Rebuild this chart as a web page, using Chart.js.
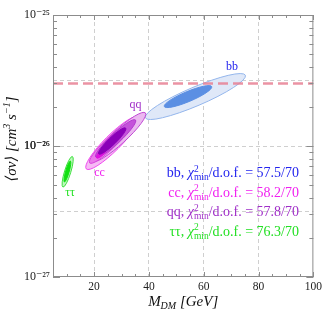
<!DOCTYPE html>
<html>
<head>
<meta charset="utf-8">
<script src="https://cdn.jsdelivr.net/npm/chart.js@4.4.0/dist/chart.umd.min.js"></script>
<style>
  html, body { margin: 0; padding: 0; background: #fff; }
</style>
</head>
<body>
<canvas id="chart" width="325" height="313"></canvas>
<script>
const channels = ['bb', 'cc', 'qq', 'ττ'];
const chi2min = [57.5, 58.2, 57.8, 76.3];
const dof = 70;
const channelColors = ['#2424ee', '#f020f0', '#a02ec8', '#22e022'];

const xTicks = [20, 40, 60, 80, 100];
const xMinor = [10, 15, 25, 30, 35, 45, 50, 55, 65, 70, 75, 85, 90, 95];
const yTicks = [1e-27, 1e-26, 1e-25];
const yGrid = [3.16e-27, 1e-26, 3.16e-26];
const yMinorMult = [2, 3, 4, 5, 6, 7, 8, 9];

const relicMass = [5, 100];
const relicSigmaV = 3.0e-26;

// each contour: tip, other tip, end of the short half axis  ([M_DM, <sigma v>])
const bbOuter = [[38.7, 1.64e-26], [75.2, 3.47e-26], [58.3, 2.05e-26]];
const bbInner = [[45.6, 2.00e-26], [62.9, 2.84e-26], [55.0, 2.20e-26]];
const ccOuter = [[17.15, 6.68e-27], [36.2, 1.665e-26], [28.7, 9.54e-27]];
const qqOuter = [[19.5, 7.68e-27], [38.7, 1.79e-26], [30.8, 1.07e-26]];
const ccMid = [[18.4, 7.42e-27], [32.9, 1.45e-26], [27.0, 9.66e-27]];
const qqMid = [[20.6, 8.24e-27], [35.1, 1.58e-26], [29.1, 1.07e-26]];
const ccCore = [[20.95, 8.1e-27], [24.9, 1.0e-26], [23.6, 8.73e-27]];
const qqCore = [[21.7, 8.69e-27], [31.5, 1.37e-26], [27.5, 1.04e-26]];
const tauOuter = [[8.63, 4.86e-27], [12.07, 8.32e-27], [11.45, 6.26e-27]];
const tauInner = [[9.17, 5.31e-27], [11.35, 7.68e-27], [10.87, 6.33e-27]];

// channel name positions
const labelPos = [[70.3, 4.03e-26], [22.0, 6.22e-27], [35.1, 2.06e-26], [11.2, 4.4e-27]];

const SERIF = '"Liberation Serif", "DejaVu Serif", serif';

const contours = [
  { pts: bbOuter, fill: '#dfe8f8', line: '#94b6ec' },
  { pts: bbInner, fill: '#5b8fe3', line: '#5b8fe3' },
  { pts: ccOuter, fill: '#f6baf4', line: '#f04af0' },
  { pts: qqOuter, fill: '#ebb8f0', line: '#c04ad4' },
  { pts: ccMid, fill: '#ea78ea', line: '#d844dc' },
  { pts: qqMid, fill: '#c452da', line: '#b43ad0' },
  { pts: ccCore, fill: '#e010e0', line: '#e010e0' },
  { pts: qqCore, fill: '#8a00b8', line: '#8a00b8' },
  { pts: tauOuter, fill: '#bcf8bc', line: '#3ee03e' },
  { pts: tauInner, fill: '#12e012', line: '#12e012' }
];

function drawRich(ctx, parts, x, y) {
  parts.forEach(p => {
    const list = p.stack || [p];
    let adv = 0;
    list.forEach(q => {
      ctx.font = q.font;
      ctx.fillText(q.t, x, y + (q.dy || 0));
      adv = Math.max(adv, ctx.measureText(q.t).width);
    });
    x += adv;
  });
}

function richWidth(ctx, parts) {
  let w = 0;
  parts.forEach(p => {
    const list = p.stack || [p];
    w += Math.max(...list.map(q => { ctx.font = q.font; return ctx.measureText(q.t).width; }));
  });
  return w;
}

const contourPlugin = {
  id: 'contours',
  beforeDatasetsDraw(chart) {
    const { ctx, chartArea: a, scales: { x, y } } = chart;
    ctx.save();
    ctx.beginPath();
    ctx.rect(a.left, a.top, a.width, a.height);
    ctx.clip();
    contours.forEach(c => {
      const p = c.pts.map(([m, s]) => [x.getPixelForValue(m), y.getPixelForValue(s)]);
      const cx = (p[0][0] + p[1][0]) / 2, cy = (p[0][1] + p[1][1]) / 2;
      const dx = p[1][0] - p[0][0], dy = p[1][1] - p[0][1];
      const ra = Math.hypot(dx, dy) / 2;
      const rb = Math.abs((p[2][0] - cx) * dy - (p[2][1] - cy) * dx) / (2 * ra);
      ctx.beginPath();
      ctx.ellipse(cx, cy, ra, rb, Math.atan2(dy, dx), 0, Math.PI * 2);
      ctx.fillStyle = c.fill;
      ctx.fill();
      ctx.lineWidth = 1;
      ctx.strokeStyle = c.line;
      ctx.stroke();
    });
    ctx.textAlign = 'center';
    ctx.textBaseline = 'middle';
    ctx.font = `12px ${SERIF}`;
    labelPos.forEach(([m, s], i) => {
      ctx.fillStyle = channelColors[i];
      ctx.fillText(channels[i], x.getPixelForValue(m), y.getPixelForValue(s));
    });
    ctx.restore();
  },
  afterDraw(chart) {
    const { ctx, chartArea: a, scales: { x, y } } = chart;
    ctx.save();
    // frame and inside ticks
    ctx.strokeStyle = '#8c8c8c';
    ctx.lineWidth = 1;
    ctx.strokeRect(a.left + 0.5, a.top + 0.5, a.width - 1, a.height - 1);
    ctx.beginPath();
    const xt = (v, len) => {
      const px = Math.round(x.getPixelForValue(v)) + 0.5;
      ctx.moveTo(px, a.bottom); ctx.lineTo(px, a.bottom - len);
      ctx.moveTo(px, a.top); ctx.lineTo(px, a.top + len);
    };
    xTicks.forEach(v => xt(v, 5));
    xMinor.forEach(v => xt(v, 3));
    const yt = (v, len) => {
      const py = Math.round(y.getPixelForValue(v)) + 0.5;
      ctx.moveTo(a.left, py); ctx.lineTo(a.left + len, py);
      ctx.moveTo(a.right, py); ctx.lineTo(a.right - len, py);
    };
    yTicks.forEach(v => yt(v, 7));
    yTicks.slice(0, -1).forEach(d => yMinorMult.forEach(k => yt(d * k, 4)));
    ctx.stroke();

    // legend rows
    ctx.textAlign = 'left';
    ctx.textBaseline = 'alphabetic';
    const big = `14px ${SERIF}`, small = `9.5px ${SERIF}`;
    channels.forEach((ch, i) => {
      const parts = [
        { t: ch + ', ', font: big },
        { t: 'χ', font: `italic ${big}` },
        { stack: [{ t: '2', font: small, dy: -5.5 }, { t: 'min', font: small, dy: 3 }] },
        { t: `/d.o.f. = ${chi2min[i].toFixed(1)}/${dof}`, font: big }
      ];
      ctx.fillStyle = channelColors[i];
      const w = richWidth(ctx, parts);
      drawRich(ctx, parts, 299 - w, 177 + i * 19.5);
    });

    // axis titles
    ctx.fillStyle = '#111';
    const t1 = `italic 15px ${SERIF}`, t2 = `italic 10px ${SERIF}`;
    const xParts = [{ t: 'M', font: t1 }, { t: 'DM', font: t2, dy: 3 }, { t: ' [GeV]', font: t1 }];
    drawRich(ctx, xParts, (a.left + a.right) / 2 - richWidth(ctx, xParts) / 2, 306);
    const yParts = [
      { t: '⟨σv⟩ [cm', font: t1 }, { t: '3', font: t2, dy: -6 },
      { t: ' s', font: t1 }, { t: '−1', font: t2, dy: -6 }, { t: ']', font: t1 }
    ];
    ctx.translate(16, 139);
    ctx.rotate(-Math.PI / 2);
    drawRich(ctx, yParts, -richWidth(ctx, yParts) / 2, 0);
    ctx.restore();
  }
};

const supMap = { '-': '⁻', '0': '⁰', '1': '¹', '2': '²', '3': '³', '4': '⁴', '5': '⁵', '6': '⁶', '7': '⁷', '8': '⁸', '9': '⁹' };
const pow10Label = v => '10' + String(Math.round(Math.log10(v))).split('').map(c => supMap[c]).join('');

new Chart(document.getElementById('chart').getContext('2d'), {
  type: 'line',
  data: {
    datasets: [{
      data: relicMass.map(m => ({ x: m, y: relicSigmaV })),
      borderColor: 'rgba(232, 128, 148, 0.85)',
      borderWidth: 2.5,
      borderDash: [10, 5],
      pointRadius: 0,
      fill: false
    }]
  },
  options: {
    responsive: false,
    animation: false,
    layout: { padding: { left: 0, top: 15, right: 10, bottom: 0 } },
    plugins: { legend: { display: false }, tooltip: { enabled: false } },
    scales: {
      x: {
        type: 'linear', min: 5, max: 100,
        afterBuildTicks: s => { s.ticks = xTicks.map(v => ({ value: v })); },
        afterFit: s => { s.height = 36; },
        ticks: { autoSkip: false, maxRotation: 0, padding: 3, color: '#222', font: { family: SERIF, size: 11.5 }, callback: v => v },
        grid: { drawTicks: false, lineWidth: 1, color: c => (c.tick && c.tick.value < 100 ? '#cfcfcf' : 'rgba(0,0,0,0)') },
        border: { display: false, dash: [4, 3] }
      },
      y: {
        type: 'logarithmic', min: 1e-27, max: 1e-25,
        afterBuildTicks: s => { s.ticks = [...yTicks, ...yGrid].sort((p, q) => p - q).map(v => ({ value: v })); },
        afterFit: s => { s.width = 53; },
        ticks: { autoSkip: false, padding: 3, color: '#222', font: { family: SERIF, size: 12 }, callback: v => (yTicks.includes(v) ? pow10Label(v) : '') },
        grid: { drawTicks: false, lineWidth: 1, color: c => (c.tick && yGrid.includes(c.tick.value) ? '#cfcfcf' : 'rgba(0,0,0,0)') },
        border: { display: false, dash: [4, 3] }
      }
    }
  },
  plugins: [contourPlugin]
});
</script>
</body>
</html>
